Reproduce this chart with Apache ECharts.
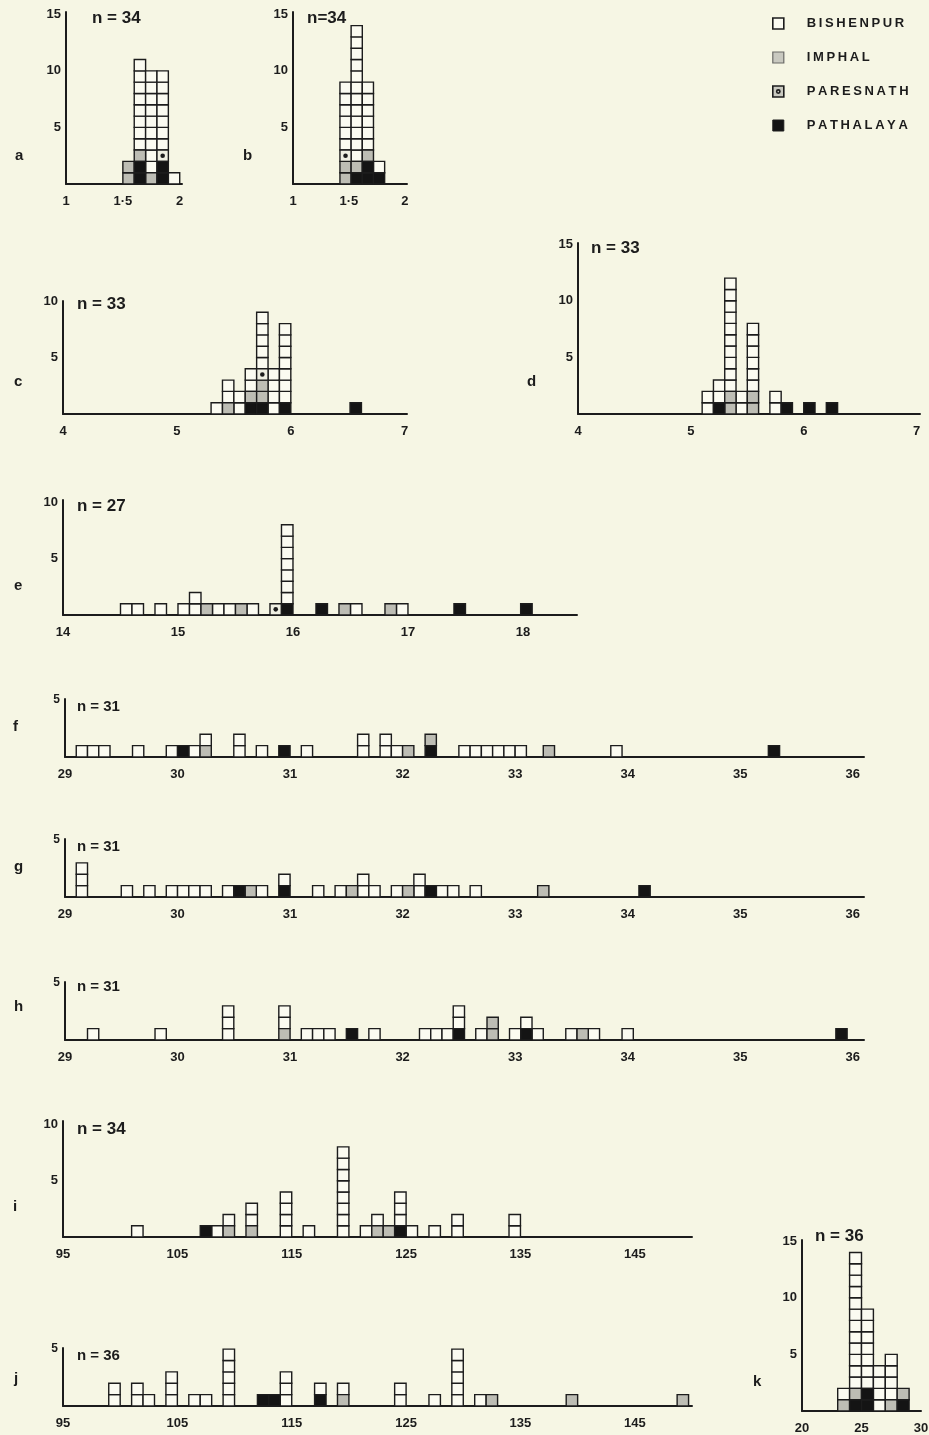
<!DOCTYPE html>
<html>
<head>
<meta charset="utf-8">
<title>Dot histograms a–k</title>
<script src="https://cdn.jsdelivr.net/npm/echarts@6/dist/echarts.min.js"></script>
<style>
  html, body { margin: 0; padding: 0; background: #f6f6e4; }
  #chart { width: 929px; height: 1435px; }
</style>
</head>
<body>
<div id="chart"></div>
<script>
// each column: [bin start, stack from the bottom]
// B = Bishenpur, I = Imphal, P = Paresnath, T = Pathalaya
const panelA = [[1.5, 'II'], [1.6, 'TTIBBBBBBBB'], [1.7, 'IBBBBBBBBB'], [1.8, 'TTPBBBBBBB'], [1.9, 'B']]
const panelB = [[1.42, 'IIPBBBBBB'], [1.52, 'TIBBBBBBBBBBBB'], [1.62, 'TTIBBBBBB'], [1.72, 'TB']]
const panelC = [[5.3, 'B'], [5.4, 'IBB'], [5.5, 'BB'], [5.6, 'TIBB'], [5.7, 'TIIPBBBBB'],
  [5.8, 'BBBB'], [5.9, 'TBBBBBBB'], [6.52, 'T']]
const panelD = [[5.1, 'BB'], [5.2, 'TBB'], [5.3, 'IIBBBBBBBBBB'], [5.4, 'BB'], [5.5, 'IIBBBBBB'],
  [5.7, 'BB'], [5.8, 'T'], [6.0, 'T'], [6.2, 'T']]
const panelE = [[14.5, 'B'], [14.6, 'B'], [14.8, 'B'], [15.0, 'B'], [15.1, 'BB'], [15.2, 'I'],
  [15.3, 'B'], [15.4, 'B'], [15.5, 'I'], [15.6, 'B'], [15.8, 'P'], [15.9, 'TBBBBBBB'],
  [16.2, 'T'], [16.4, 'I'], [16.5, 'B'], [16.8, 'I'], [16.9, 'B'], [17.4, 'T'], [17.98, 'T']]
const panelF = [[29.1, 'B'], [29.2, 'B'], [29.3, 'B'], [29.6, 'B'], [29.9, 'B'], [30.0, 'T'], [30.1, 'B'],
  [30.2, 'IB'], [30.5, 'BB'], [30.7, 'B'], [30.9, 'T'], [31.1, 'B'], [31.6, 'BB'], [31.8, 'BB'],
  [31.9, 'B'], [32.0, 'I'], [32.2, 'TI'], [32.5, 'B'], [32.6, 'B'], [32.7, 'B'], [32.8, 'B'],
  [32.9, 'B'], [33.0, 'B'], [33.25, 'I'], [33.85, 'B'], [35.25, 'T']]
const panelG = [[29.1, 'BBB'], [29.5, 'B'], [29.7, 'B'], [29.9, 'B'], [30.0, 'B'], [30.1, 'B'], [30.2, 'B'],
  [30.4, 'B'], [30.5, 'T'], [30.6, 'I'], [30.7, 'B'], [30.9, 'TB'], [31.2, 'B'], [31.4, 'B'],
  [31.5, 'I'], [31.6, 'BB'], [31.7, 'B'], [31.9, 'B'], [32.0, 'I'], [32.1, 'BB'], [32.2, 'T'],
  [32.3, 'B'], [32.4, 'B'], [32.6, 'B'], [33.2, 'I'], [34.1, 'T']]
const panelH = [[29.2, 'B'], [29.8, 'B'], [30.4, 'BBB'], [30.9, 'IBB'], [31.1, 'B'], [31.2, 'B'],
  [31.3, 'B'], [31.5, 'T'], [31.7, 'B'], [32.15, 'B'], [32.25, 'B'], [32.35, 'B'], [32.45, 'TBB'],
  [32.65, 'B'], [32.75, 'II'], [32.95, 'B'], [33.05, 'TB'], [33.15, 'B'], [33.45, 'B'],
  [33.55, 'I'], [33.65, 'B'], [33.95, 'B'], [35.85, 'T']]
const panelI = [[101, 'B'], [107, 'T'], [108, 'B'], [109, 'IB'], [111, 'IBB'], [114, 'BBBB'], [116, 'B'],
  [119, 'BBBBBBBB'], [121, 'B'], [122, 'IB'], [123, 'I'], [124, 'TBBB'], [125, 'B'], [127, 'B'],
  [129, 'BB'], [134, 'BB']]
const panelJ = [[99, 'BB'], [101, 'BB'], [102, 'B'], [104, 'BBB'], [106, 'B'], [107, 'B'], [109, 'BBBBB'],
  [112, 'T'], [113, 'T'], [114, 'BBB'], [117, 'TB'], [119, 'IB'], [124, 'BB'], [127, 'B'],
  [129, 'BBBBB'], [131, 'B'], [132, 'I'], [139, 'I'], [148.7, 'I']]
const panelK = [[23, 'IB'], [24, 'TIBBBBBBBBBBBB'], [25, 'TTBBBBBBB'], [26, 'BBBB'], [27, 'IBBBB'], [28, 'TI']]

const categories = ['BISHENPUR', 'IMPHAL', 'PARESNATH', 'PATHALAYA']
const codeOf = { B: 'BISHENPUR', I: 'IMPHAL', P: 'PARESNATH', T: 'PATHALAYA' }

const BG = '#f6f6e4'
const INK = '#1c1c1c'
const fills = {
  BISHENPUR: '#fbfbf1',
  IMPHAL: '#bdbdb4',
  PARESNATH: '#efefe2',
  PATHALAYA: '#141414'
}
const FONT = '"Liberation Sans", Arial, sans-serif'

// layout of the eleven small plots: grid box is [left, top, width, height]
const panels = [
  { tag: 'a', data: panelA, bin: 0.1, box: [66, 12, 116, 172], x: [1, 2.02, 0.5], yMax: 15.2, n: 'n = 34', nPos: [92, 19], tagPos: [15, 157], dot: true },
  { tag: 'b', data: panelB, bin: 0.1, box: [293, 12, 114, 172], x: [1, 2.02, 0.5], yMax: 15.2, n: 'n=34', nPos: [307, 19], tagPos: [243, 157], dot: true },
  { tag: 'c', data: panelC, bin: 0.1, box: [63, 301, 344, 113], x: [4, 7.02, 1], yMax: 10, n: 'n = 33', nPos: [77, 305], tagPos: [14, 383] },
  { tag: 'd', data: panelD, bin: 0.1, box: [578, 243, 342, 171], x: [4, 7.03, 1], yMax: 15.1, n: 'n = 33', nPos: [591, 249], tagPos: [527, 383] },
  { tag: 'e', data: panelE, bin: 0.1, box: [63, 500, 514, 115], x: [14, 18.47, 1], yMax: 10.2, n: 'n = 27', nPos: [77, 507], tagPos: [14, 587] },
  { tag: 'f', data: panelF, bin: 0.1, box: [65, 699, 799, 58], x: [29, 36.1, 1], yMax: 5.1, n: 'n = 31', nPos: [77, 708], tagPos: [13, 728], small: true },
  { tag: 'g', data: panelG, bin: 0.1, box: [65, 839, 799, 58], x: [29, 36.1, 1], yMax: 5.1, n: 'n = 31', nPos: [77, 848], tagPos: [14, 868], small: true },
  { tag: 'h', data: panelH, bin: 0.1, box: [65, 982, 799, 58], x: [29, 36.1, 1], yMax: 5.1, n: 'n = 31', nPos: [77, 988], tagPos: [14, 1008], small: true },
  { tag: 'i', data: panelI, bin: 1, box: [63, 1121, 629, 116], x: [95, 150, 10], yMax: 10.3, n: 'n = 34', nPos: [77, 1130], tagPos: [13, 1208] },
  { tag: 'j', data: panelJ, bin: 1, box: [63, 1348, 629, 58], x: [95, 150, 10], yMax: 5.1, n: 'n = 36', nPos: [77, 1357], tagPos: [14, 1380], small: true },
  { tag: 'k', data: panelK, bin: 1, box: [802, 1240, 119, 171], x: [20, 30, 5], yMax: 15.1, n: 'n = 36', nPos: [815, 1237], tagPos: [753, 1383] }
]

const onStep = (v, start, step) => {
  const k = (v - start) / step
  return Math.abs(k - Math.round(k)) < 1e-6
}

const makeRender = (bin, cat) => (params, api) => {
  const x = api.value(0)
  const lvl = api.value(1)
  const p0 = api.coord([x, lvl])
  const p1 = api.coord([x + bin, lvl + 1])
  const w = p1[0] - p0[0]
  const h = p0[1] - p1[1]
  const children = [{
    type: 'rect',
    shape: { x: p0[0], y: p1[1], width: w, height: h },
    style: { fill: fills[cat], stroke: INK, lineWidth: 1.4 }
  }]
  if (cat === 'PARESNATH') {
    children.push({
      type: 'circle',
      shape: { cx: p0[0] + w / 2, cy: p1[1] + h / 2, r: 2.3 },
      style: { fill: INK }
    })
  }
  return { type: 'group', children }
}

const grids = []
const xAxes = []
const yAxes = []
const series = []
const texts = []

panels.forEach((p, idx) => {
  const [left, top, width, height] = p.box
  const [xMin, xMax, xStep] = p.x
  grids.push({ left, top, width, height, outerBoundsMode: 'none' })

  xAxes.push({
    gridIndex: idx,
    type: 'value',
    min: xMin,
    max: xMax,
    interval: xStep,
    axisLine: { show: true, onZero: false, lineStyle: { color: INK, width: 2 } },
    axisTick: { show: false },
    splitLine: { show: false },
    axisLabel: {
      margin: 11,
      color: INK,
      fontFamily: FONT,
      fontWeight: 'bold',
      fontSize: 13,
      showMaxLabel: true,
      formatter: v => {
        if (!onStep(v, xMin, xStep)) return ''
        const s = String(Math.round(v * 100) / 100)
        return p.dot ? s.replace('.', '·') : s
      }
    }
  })

  yAxes.push({
    gridIndex: idx,
    type: 'value',
    min: 0,
    max: p.yMax,
    interval: 5,
    axisLine: { show: true, lineStyle: { color: INK, width: 2 } },
    axisTick: { show: false },
    splitLine: { show: false },
    axisLabel: {
      margin: 5,
      color: INK,
      fontFamily: FONT,
      fontWeight: 'bold',
      fontSize: p.small ? 12 : 13,
      formatter: v => (v > 0 && onStep(v, 0, 5)) ? String(v) : ''
    }
  })

  const cells = {}
  categories.forEach(c => { cells[c] = [] })
  p.data.forEach(([x, stack]) => {
    stack.split('').forEach((code, lvl) => {
      cells[codeOf[code]].push([x, lvl])
    })
  })

  categories.forEach(cat => {
    series.push({
      name: cat,
      type: 'custom',
      xAxisIndex: idx,
      yAxisIndex: idx,
      clip: false,
      itemStyle: { color: fills[cat], borderColor: INK },
      renderItem: makeRender(p.bin, cat),
      data: cells[cat]
    })
  })

  texts.push({
    type: 'text',
    left: p.tagPos[0],
    top: p.tagPos[1] - 9,
    style: { text: p.tag, font: `bold 15px ${FONT}`, fill: INK }
  })
  texts.push({
    type: 'text',
    left: p.nPos[0],
    top: p.nPos[1] - 9,
    style: { text: p.n, font: `bold ${p.small ? 15 : 17}px ${FONT}`, fill: INK }
  })
})

const chart = echarts.init(document.getElementById('chart'), null, { renderer: 'canvas' })

chart.setOption({
  backgroundColor: BG,
  animation: false,
  legend: {
    orient: 'vertical',
    left: 767,
    top: 12,
    itemWidth: 11,
    itemHeight: 11,
    itemGap: 21,
    selectedMode: false,
    // the printed key is letter-spaced
    formatter: name => name.split('').join('\u2009'),
    textStyle: {
      color: INK,
      fontFamily: FONT,
      fontWeight: 'bold',
      fontSize: 13,
      padding: [0, 0, 0, 18]
    },
    data: [
      { name: 'BISHENPUR', icon: 'rect', itemStyle: { color: fills.BISHENPUR, borderColor: INK, borderWidth: 1.6 } },
      { name: 'IMPHAL', icon: 'rect', itemStyle: { color: '#c9c9c0', borderColor: '#6a6a66', borderWidth: 1.2 } },
      { name: 'PARESNATH', icon: 'path://M0,0H12V12H0Z M6,4.2A1.8,1.8 0 1 1 5.99,4.2Z', itemStyle: { color: '#c9c9c0', borderColor: INK, borderWidth: 1.6 } },
      { name: 'PATHALAYA', icon: 'rect', itemStyle: { color: fills.PATHALAYA, borderColor: INK, borderWidth: 1 } }
    ]
  },
  grid: grids,
  xAxis: xAxes,
  yAxis: yAxes,
  series,
  graphic: texts
})

window.addEventListener('resize', () => chart.resize())
</script>
</body>
</html>
